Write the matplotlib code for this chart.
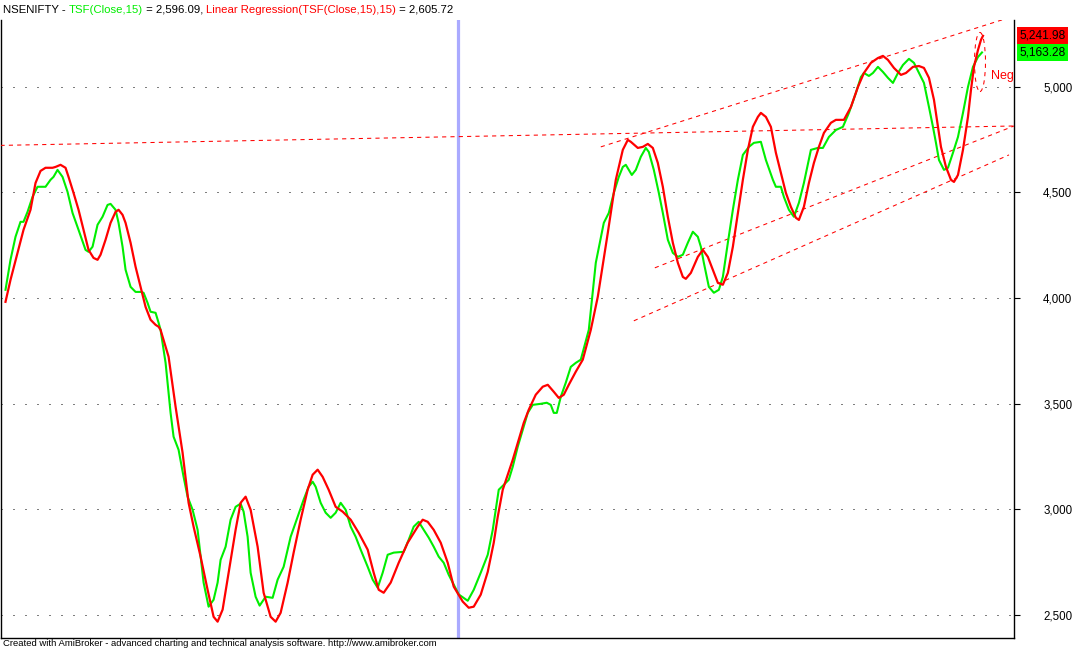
import numpy as np
import matplotlib
matplotlib.use("Agg")
import matplotlib.pyplot as plt
from matplotlib.patches import Ellipse
from matplotlib.ticker import FuncFormatter

plt.rcParams['font.family'] = ['Liberation Sans', 'DejaVu Sans']

# TSF(Close,15) - green line (bar index, value)
tsf_bars = [5, 10, 15, 20, 23, 27, 32, 37, 45, 50, 53, 57, 62, 67, 72, 78, 85, 88, 92, 97,
            102, 107, 110, 115, 118, 122, 125, 130, 135, 140, 143, 147, 150, 155, 158, 160,
            165, 170, 173, 178, 183, 187, 192, 197, 200, 203, 208, 213, 217, 220, 225, 230,
            235, 240, 243, 247, 250, 255, 259, 265, 272, 277, 283, 290, 297, 303, 308, 312,
            315, 320, 325, 330, 335, 340, 345, 350, 355, 360, 367, 372, 377, 382, 387, 393,
            403, 408, 413, 418, 423, 428, 433, 438, 443, 448, 453, 458, 467, 473, 480, 487,
            492, 495, 498, 503, 508, 512, 517, 522, 527, 532, 540, 546, 550, 553, 556, 560,
            565, 570, 575, 580, 588, 595, 603, 608, 613, 618, 622, 625, 631, 635, 640, 645,
            648, 653, 658, 662, 667, 672, 677, 682, 687, 692, 697, 700, 703, 708, 713, 718,
            722, 727, 732, 737, 742, 748, 753, 760, 765, 772, 775, 780, 783, 788, 793, 798,
            803, 810, 817, 822, 828, 835, 842, 848, 855, 860, 863, 868, 872, 877, 882, 887,
            892, 897, 902, 908, 913, 918, 923, 928, 932, 935, 938, 943, 947, 952, 957, 962,
            967, 972, 977, 981]
tsf_vals = [4039, 4181, 4290, 4361, 4361, 4408, 4479, 4527, 4527, 4560, 4574, 4607, 4574, 4503,
            4403, 4323, 4228, 4219, 4243, 4347, 4385, 4441, 4446, 4418, 4356, 4243, 4134, 4053,
            4029, 4029, 4025, 3977, 3935, 3930, 3883, 3849, 3693, 3456, 3343, 3281, 3153, 3059,
            2997, 2902, 2775, 2652, 2538, 2571, 2652, 2760, 2822, 2950, 3011, 3026, 2988, 2869,
            2699, 2585, 2543, 2585, 2580, 2666, 2727, 2869, 2964, 3045, 3106, 3130, 3106, 3030,
            2983, 2959, 2983, 3030, 2997, 2917, 2869, 2808, 2727, 2666, 2628, 2699, 2784, 2794,
            2798, 2855, 2917, 2940, 2902, 2865, 2822, 2775, 2746, 2689, 2642, 2596, 2566, 2618,
            2699, 2784, 2902, 2997, 3092, 3115, 3139, 3201, 3296, 3376, 3456, 3494, 3499, 3504,
            3494, 3456, 3456, 3532, 3599, 3674, 3693, 3708, 3849, 4167, 4356, 4403, 4498, 4574,
            4621, 4631, 4583, 4607, 4669, 4711, 4692, 4607, 4498, 4403, 4276, 4214, 4195, 4205,
            4262, 4314, 4290, 4243, 4167, 4053, 4025, 4039, 4100, 4262, 4418, 4560, 4678, 4716,
            4735, 4740, 4654, 4560, 4527, 4527, 4479, 4418, 4385, 4451, 4545, 4702, 4711, 4711,
            4763, 4796, 4811, 4877, 4972, 5047, 5066, 5052, 5066, 5095, 5071, 5043, 5019, 5066,
            5104, 5133, 5114, 5066, 5019, 4905, 4811, 4735, 4654, 4607, 4617, 4688, 4763, 4877,
            5000, 5095, 5142, 5163.28]

# Linear Regression(TSF(Close,15),15) - red line
lr_bars = [5, 10, 17, 23, 30, 35, 40, 45, 52, 55, 60, 65, 68, 73, 78, 83, 88, 93, 97, 100,
           105, 110, 115, 118, 122, 125, 130, 135, 140, 145, 150, 155, 158, 160, 168, 175,
           182, 188, 193, 200, 207, 213, 217, 222, 228, 235, 240, 245, 250, 257, 263, 270,
           275, 280, 287, 293, 300, 307, 312, 317, 322, 328, 335, 342, 350, 358, 367, 373,
           378, 383, 390, 398, 407, 417, 422, 427, 433, 440, 447, 453, 462, 468, 473, 480,
           487, 493, 497, 502, 507, 512, 517, 523, 528, 535, 542, 547, 553, 558, 563, 568,
           575, 582, 590, 597, 607, 615, 622, 627, 630, 637, 642, 647, 652, 657, 662, 667,
           672, 677, 682, 685, 690, 697, 702, 707, 712, 717, 722, 727, 732, 737, 742, 747,
           752, 757, 760, 765, 770, 775, 780, 785, 790, 795, 798, 803, 808, 813, 818, 823,
           830, 835, 843, 850, 857, 863, 870, 877, 882, 887, 893, 900, 905, 912, 918, 923,
           928, 933, 937, 940, 945, 950, 953, 957, 962, 967, 970, 973, 977, 980, 982]
lr_vals = [3982, 4086, 4214, 4323, 4418, 4545, 4602, 4617, 4617, 4621, 4631, 4617, 4574, 4498,
           4418, 4323, 4228, 4190, 4181, 4205, 4276, 4356, 4408, 4418, 4394, 4356, 4262, 4148,
           4053, 3958, 3897, 3873, 3864, 3849, 3722, 3485, 3267, 3030, 2917, 2775, 2618, 2490,
           2467, 2524, 2699, 2902, 3030, 3059, 2997, 2822, 2604, 2490, 2467, 2509, 2652, 2794,
           2950, 3092, 3163, 3187, 3153, 3092, 3011, 2988, 2950, 2888, 2808, 2699, 2618, 2604,
           2652, 2746, 2841, 2917, 2950, 2940, 2902, 2841, 2746, 2633, 2562, 2533, 2538, 2595,
           2703, 2841, 2964, 3092, 3163, 3234, 3314, 3409, 3471, 3542, 3580, 3589, 3556, 3527,
           3542, 3589, 3651, 3708, 3849, 4006, 4309, 4560, 4702, 4749, 4740, 4711, 4716, 4730,
           4711, 4640, 4527, 4385, 4262, 4167, 4100, 4091, 4119, 4195, 4228, 4195, 4134, 4072,
           4063, 4119, 4243, 4403, 4560, 4702, 4811, 4858, 4877, 4858, 4811, 4688, 4593, 4498,
           4432, 4380, 4370, 4432, 4545, 4640, 4716, 4782, 4830, 4844, 4844, 4905, 5000, 5066,
           5114, 5137, 5147, 5128, 5090, 5057, 5066, 5095, 5099, 5090, 5043, 4939, 4811, 4716,
           4621, 4560, 4550, 4583, 4702, 4858, 4986, 5095, 5175, 5223, 5241.98]

# hand-drawn trend lines: (bar0, value0, bar1, value1)
trend_lines = [
    (0, 4723, 1013, 4815),
    (600, 4716, 1010, 5331),
    (654, 4143, 1013, 4815),
    (633, 3892, 1008, 4678),
]

cursor_bar = 457
price_ticks = [2500, 3000, 3500, 4000, 4500, 5000]
last_tsf = 5163.28
last_lr = 5241.98

fig = plt.figure(figsize=(10.75, 6.5), dpi=100)
ax = fig.add_axes([0.5 / 1075, 12.5 / 650, 1013.5 / 1075, 617.5 / 650])

ax.set_xlim(0, 1013)
ax.set_ylim(2392, 5317)

for lvl in price_ticks:
    ax.axhline(lvl, color='black', lw=0.72, ls=(0, (1, 11)), zorder=1)

ax.axvline(cursor_bar, color='#aaaaff', lw=2.3, zorder=2)

for x0, y0, x1, y1 in trend_lines:
    ax.plot([x0, x1], [y0, y1], color='#ff0000', lw=0.75, ls=(0, (4, 4)), zorder=3)

ax.add_patch(Ellipse((979, 5118), 11, 280, fill=False, ec='#ff0000', lw=0.75,
                     ls=(0, (4, 4)), zorder=3))
ax.text(990, 5050, 'Neg', color='#ff0000', fontsize=9, va='center', ha='left', clip_on=False)

ax.plot(tsf_bars, tsf_vals, color='#00ee00', lw=1.5, zorder=4)
ax.plot(lr_bars, lr_vals, color='#ff0000', lw=1.6, zorder=5)

ax.yaxis.tick_right()
ax.set_yticks(price_ticks)
ax.yaxis.set_major_formatter(FuncFormatter(lambda v, p: f'{v:,.0f}'))
ax.tick_params(axis='y', direction='out', length=4, width=0.8, pad=17, labelsize=8.3)
ax.set_xticks([])
ax.spines['top'].set_visible(False)
for s in ['left', 'bottom', 'right']:
    ax.spines[s].set_linewidth(1.0)
    ax.spines[s].set_color('black')

# last value boxes
for val, bg in [(last_lr, '#ff0000'), (last_tsf, '#00ff00')]:
    ax.annotate(f'{val:,.2f}', xy=(1.0, val), xycoords=('axes fraction', 'data'),
                xytext=(5, 0), textcoords='offset pixels', fontsize=8.6, color='black',
                va='center', ha='left', annotation_clip=False,
                bbox=dict(boxstyle='square,pad=0.2', fc=bg, ec='none'))

# title line with coloured pieces
pieces = [('NSENIFTY - ', 'black'), ('TSF(Close,15)', '#00ee00'), (' = 2,596.09, ', 'black'),
          ('Linear Regression(TSF(Close,15),15)', '#ff0000'), (' = 2,605.72', 'black')]
fig.canvas.draw()
r = fig.canvas.get_renderer()
x = 3 / 1075
for s, c in pieces:
    t = fig.text(x, 1 - 10 / 650, s, color=c, fontsize=8.2, va='center', ha='left')
    x += t.get_window_extent(renderer=r).width / fig.bbox.width

fig.text(3 / 1075, 6 / 650,
         'Created with AmiBroker - advanced charting and technical analysis software. http://www.amibroker.com',
         fontsize=6.8, va='center', ha='left')

fig.savefig('out.png', dpi=100)
